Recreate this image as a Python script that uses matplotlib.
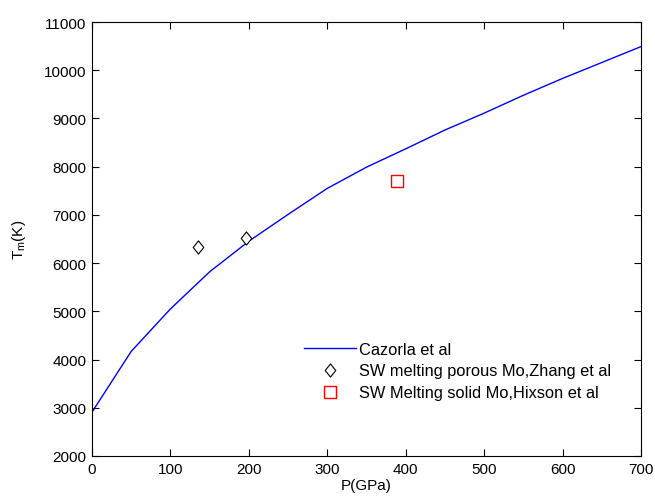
import matplotlib
matplotlib.use('Agg')
import matplotlib.pyplot as plt
from matplotlib.path import Path

plt.rcParams['font.family'] = ['Liberation Sans', 'DejaVu Sans']

# Cazorla et al melting curve
pressure = [0, 50, 100, 150, 200, 250, 300, 350, 400, 450, 500, 550, 600, 650, 700]
t_melt = [2910, 4170, 5050, 5820, 6455, 7010, 7550, 7990, 8370, 8760, 9110, 9480, 9830, 10160, 10490]

# shock wave data
zhang_p = [135, 196]
zhang_t = [6340, 6525]
hixson_p = [389]
hixson_t = [7705]

# matlab style diamond, a bit narrower than tall
diamond = Path([(0, 1), (0.8, 0), (0, -1), (-0.8, 0), (0, 1)],
               [Path.MOVETO, Path.LINETO, Path.LINETO, Path.LINETO, Path.CLOSEPOLY])

fig = plt.figure(figsize=(6.55, 5.02), dpi=100)
ax = fig.add_axes([92 / 655, 45 / 502, 549 / 655, 434 / 502])

ax.plot(pressure, t_melt, color='blue', linewidth=1.0, label='Cazorla et al')
ax.plot(zhang_p, zhang_t, linestyle='none', marker=diamond, markersize=9.5,
        markerfacecolor='white', markeredgecolor='black', markeredgewidth=0.8,
        label='SW melting porous Mo,Zhang et al')
ax.plot(hixson_p, hixson_t, linestyle='none', marker='s', markersize=8,
        markerfacecolor='white', markeredgecolor='red', markeredgewidth=1.0,
        label='SW Melting solid Mo,Hixson et al')

ax.set_xlim(0, 700)
ax.set_ylim(2000, 11000)
ax.set_xticks(range(0, 701, 100))
ax.set_yticks(range(2000, 11001, 1000))
ax.tick_params(direction='in', top=True, right=True, length=5, labelsize=11, pad=4)
for s in ax.spines.values():
    s.set_linewidth(0.8)

ax.set_xlabel('P(GPa)', fontsize=11, labelpad=2)
ax.set_ylabel('T$_\\mathregular{m}$(K)', fontsize=11)
ax.yaxis.set_label_coords(-0.117, 0.5)

ax.legend(loc='upper left', bbox_to_anchor=(297 / 655, 1 - 336 / 502),
          bbox_transform=fig.transFigure, frameon=False, fontsize=11.8,
          handlelength=3.2, handletextpad=0.2, labelspacing=0.42, borderaxespad=0)

fig.savefig('out.png', dpi=100)
